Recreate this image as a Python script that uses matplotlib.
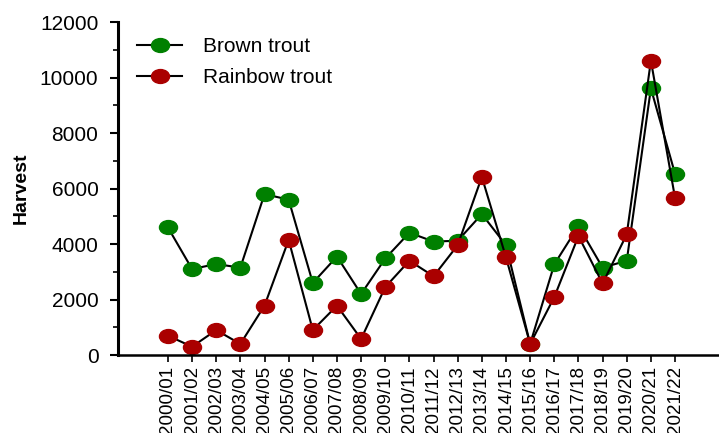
import numpy as np
import matplotlib
matplotlib.use("Agg")
import matplotlib.pyplot as plt
from matplotlib.path import Path
from matplotlib.transforms import Affine2D
from matplotlib.ticker import MultipleLocator

plt.rcParams['font.family'] = ['Liberation Sans', 'DejaVu Sans']

seasons = ["2000/01", "2001/02", "2002/03", "2003/04", "2004/05", "2005/06",
           "2006/07", "2007/08", "2008/09", "2009/10", "2010/11", "2011/12",
           "2012/13", "2013/14", "2014/15", "2015/16", "2016/17", "2017/18",
           "2018/19", "2019/20", "2020/21", "2021/22"]
brown = [4600, 3100, 3280, 3150, 5800, 5600, 2600, 3550, 2200, 3480, 4410,
         4090, 4120, 5080, 3960, 400, 3270, 4650, 3150, 3400, 9610, 6530]
rainbow = [700, 300, 900, 400, 1780, 4150, 900, 1780, 580, 2450, 3400,
           2840, 3960, 6420, 3520, 400, 2090, 4290, 2580, 4350, 10610, 5660]

# slightly flattened round marker
oval = Path.unit_circle().transformed(Affine2D().scale(1.3, 1.0))

fig = plt.figure(figsize=(7.19, 4.33), dpi=100)
ax = fig.add_axes([0.164, 0.180, 0.836, 0.769])

x = np.arange(len(seasons))
ax.plot(x, brown, color='black', lw=1.5, marker=oval, ms=13,
        mfc='#008000', mec='#008000', label='Brown trout')
ax.plot(x, rainbow, color='black', lw=1.5, marker=oval, ms=13,
        mfc='#AA0000', mec='#AA0000', label='Rainbow trout')

ax.set_xlim(-2.07, 22.82)
ax.set_ylim(0, 12000)
ax.set_xticks(x)
ax.set_xticklabels(seasons, rotation=90, fontsize=13.5)
ax.yaxis.set_major_locator(MultipleLocator(2000))
ax.yaxis.set_minor_locator(MultipleLocator(1000))
ax.tick_params(axis='y', which='major', length=6, width=1.5, labelsize=15, pad=8)
ax.tick_params(axis='y', which='minor', length=3.5, width=1.2)
ax.tick_params(axis='x', length=5, width=1.2, pad=3)

for side in ('top', 'right'):
    ax.spines[side].set_visible(False)
ax.spines['left'].set_linewidth(2.2)
ax.spines['bottom'].set_linewidth(1.8)

ax.set_ylabel('Harvest', fontsize=14, fontweight='bold', labelpad=7)

ax.legend(loc='upper left', bbox_to_anchor=(0.0, 1.012), frameon=False,
          fontsize=15, handlelength=2.2, handletextpad=1.0, labelspacing=0.6)

fig.savefig('out.png', dpi=100)
